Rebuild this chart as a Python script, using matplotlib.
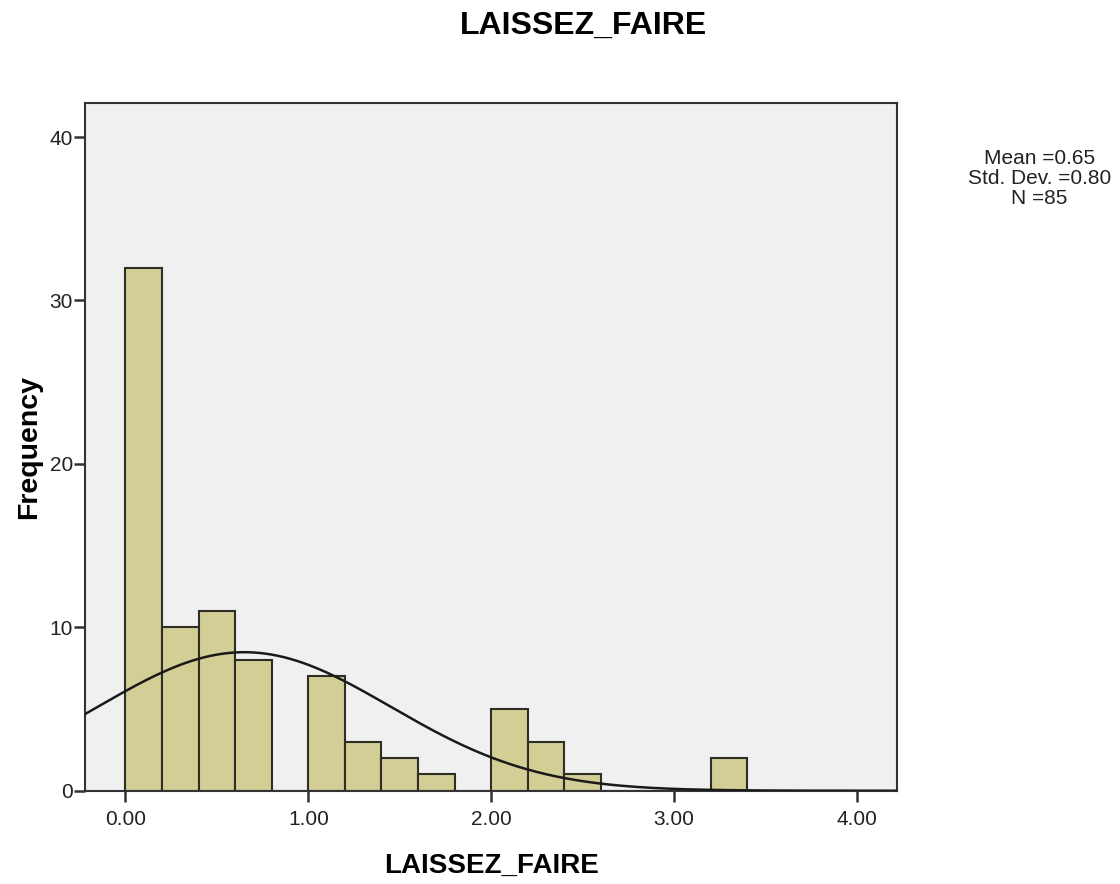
import numpy as np
import matplotlib
matplotlib.use("Agg")
import matplotlib.pyplot as plt

plt.rcParams['font.family'] = ['Liberation Sans', 'DejaVu Sans']

# histogram bins (width 0.2) and counts
bin_edges = [0.0, 0.2, 0.4, 0.6, 0.8, 1.0, 1.2, 1.4, 1.6, 1.8, 2.0,
             2.2, 2.4, 2.6, 2.8, 3.0, 3.2, 3.4]
counts = [32, 10, 11, 8, 0, 7, 3, 2, 1, 0, 5, 3, 1, 0, 0, 0, 2]

mean_val = 0.65
std_val = 0.80
n_val = 85
bin_width = 0.2

x_ticks = [0.0, 1.0, 2.0, 3.0, 4.0]
y_ticks = [0, 10, 20, 30, 40]

fig = plt.figure(figsize=(11.2, 8.84), dpi=100)
ax = fig.add_axes([0.0762, 0.1055, 0.725, 0.7783])
ax.set_facecolor('#F0F0F0')

ax.bar(bin_edges[:-1], counts, width=bin_width, align='edge',
       color='#D3CE96', edgecolor='#2E2E24', linewidth=1.5, zorder=2)

# normal curve from mean / sd / N
xs = np.linspace(-0.25, 4.25, 400)
ys = n_val * bin_width / (std_val * np.sqrt(2 * np.pi)) * np.exp(-0.5 * ((xs - mean_val) / std_val) ** 2)
ax.plot(xs, ys, color='#1a1a1a', linewidth=1.8, zorder=3)

ax.set_xlim(-0.219, 4.22)
ax.set_ylim(0, 42.1)
ax.set_xticks(x_ticks)
ax.set_xticklabels([f"{t:.2f}" for t in x_ticks])
ax.set_yticks(y_ticks)

for sp in ax.spines.values():
    sp.set_color('#333333')
    sp.set_linewidth(1.5)
ax.tick_params(direction='out', length=8, width=1.8, color='#333333',
               labelsize=15, labelcolor='#222222')
ax.tick_params(axis='x', pad=6)
ax.tick_params(axis='y', pad=1)

ax.set_xlabel("LAISSEZ_FAIRE", fontsize=20, fontweight='bold', labelpad=17)
ax.set_ylabel("Frequency", fontsize=20.5, fontweight='bold', labelpad=5)
fig.text(0.521, 0.9615, "LAISSEZ_FAIRE", ha='center', va='baseline',
         fontsize=23, fontweight='bold')

fig.text(0.928, 0.798, f"Mean ={mean_val:.2f}\nStd. Dev. ={std_val:.2f}\nN ={n_val}",
         ha='center', va='center', fontsize=15, linespacing=1.05, color='#222222')

fig.savefig("out.png", dpi=100)
